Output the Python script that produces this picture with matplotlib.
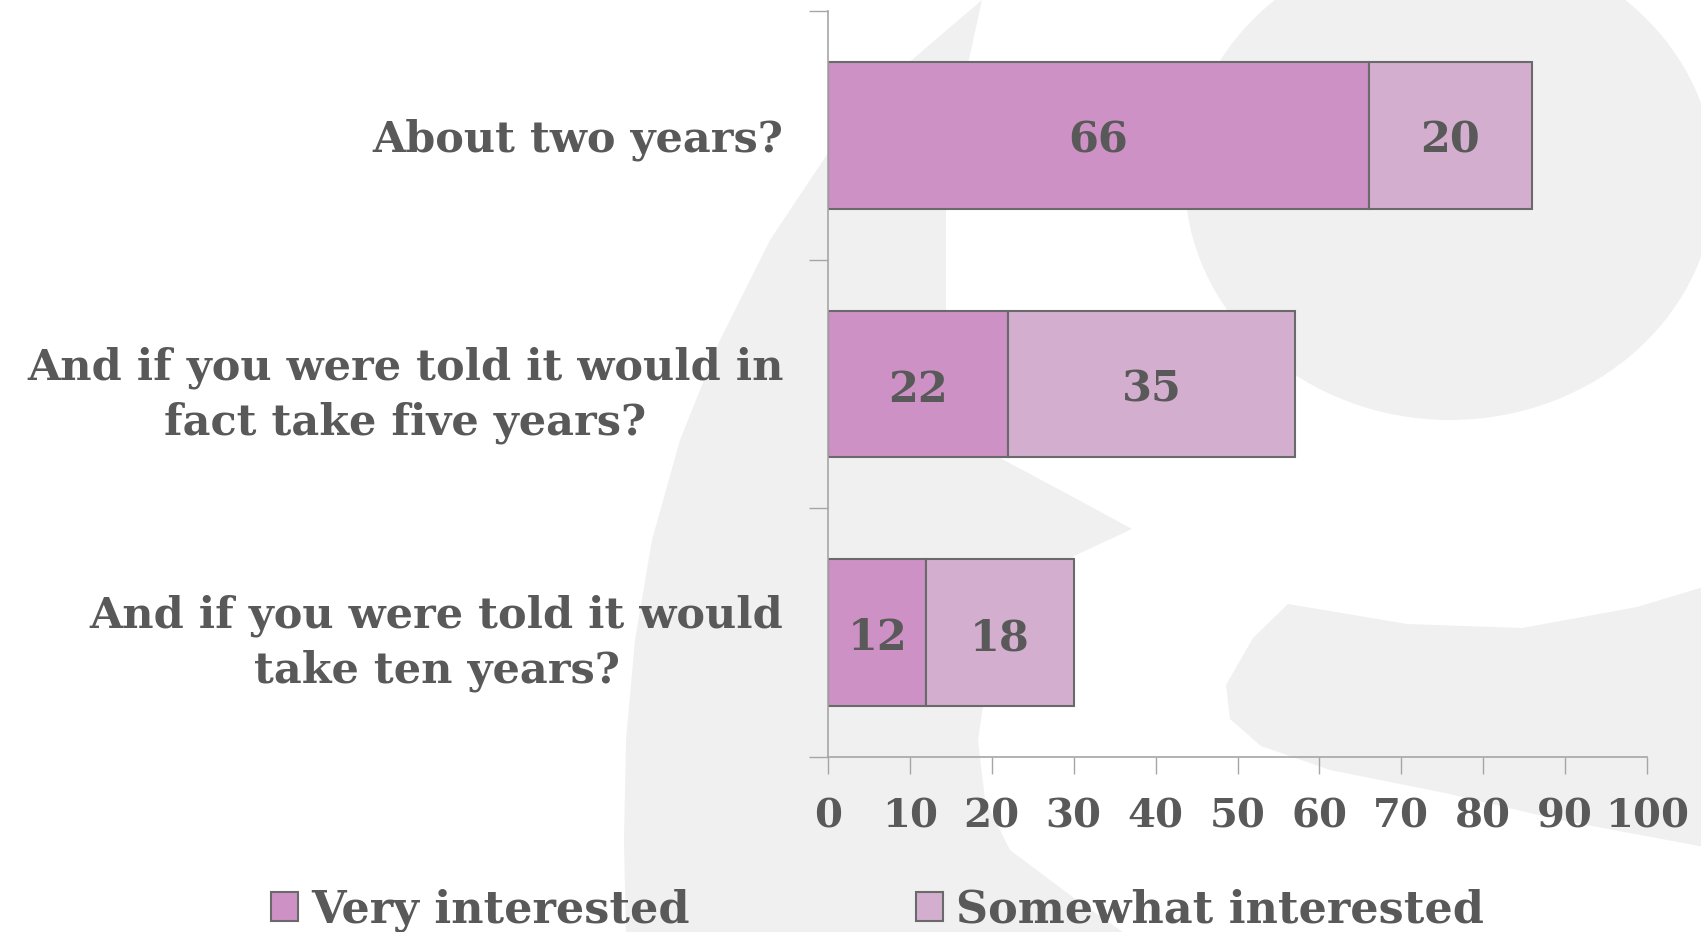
import matplotlib
matplotlib.use("Agg")
import matplotlib.pyplot as plt
from matplotlib.patches import Polygon, Ellipse, Patch
from matplotlib.transforms import Affine2D

# survey answers, percent of respondents
questions = [
    "About two years?",
    "And if you were told it would in\nfact take five years?",
    "And if you were told it would\ntake ten years?",
]
very_interested = [66, 22, 12]
somewhat_interested = [20, 35, 18]
series_names = ["Very interested", "Somewhat interested"]
x_ticks = list(range(0, 101, 10))

VERY = "#cd91c5"
SOMEWHAT = "#d3aecf"
EDGE = "#6a6a6a"
TEXT = "#595959"
AXIS = "#a6a6a6"
MARK = "#f0f0f0"
FONT = "DejaVu Serif"

W, H = 1701, 932
fig = plt.figure(figsize=(W / 100, H / 100), dpi=100)
fig.patch.set_facecolor("white")

# big pale letter mark behind the chart, laid out in pixel units from the top-left
px = Affine2D().scale(1 / W, -1 / H).translate(0, 1) + fig.transFigure
stroke = [(982, 0), (900, 70), (830, 150), (770, 240), (720, 340), (680, 440),
          (652, 540), (635, 640), (626, 740), (624, 840), (626, 940),
          (1134, 940), (1070, 895), (1010, 850), (985, 800), (978, 740),
          (983, 707), (1020, 640), (1074, 556), (1132, 529), (1060, 490),
          (1000, 458), (956, 416), (946, 320), (946, 208), (958, 110)]
tail = [(1288, 604), (1407, 624), (1522, 628), (1637, 607), (1710, 585),
        (1710, 848), (1560, 820), (1445, 793), (1330, 770), (1261, 746),
        (1230, 719), (1226, 685), (1253, 638)]
fig.patches.append(Polygon(stroke, closed=True, transform=px, color=MARK, lw=0, zorder=-5))
fig.patches.append(Polygon(tail, closed=True, transform=px, color=MARK, lw=0, zorder=-5))
fig.patches.append(Ellipse((1450, 180), 530, 480, transform=px, color=MARK, lw=0, zorder=-5))

ax = fig.add_axes([828 / W, 1 - 757 / H, 819 / W, 746 / H])
ax.set_facecolor("none")

pos = list(range(len(questions)))
b1 = ax.barh(pos, very_interested, height=0.59, color=VERY,
             edgecolor=EDGE, linewidth=1.5, label=series_names[0])
b2 = ax.barh(pos, somewhat_interested, left=very_interested, height=0.59,
             color=SOMEWHAT, edgecolor=EDGE, linewidth=1.5, label=series_names[1])
for bars in (b1, b2):
    labels = ax.bar_label(bars, label_type="center", fontsize=31, fontweight="bold",
                          family=FONT, color=TEXT)
    for t in labels:
        t.xyann = (0, -4)

ax.set_xlim(0, 100)
ax.set_ylim(len(questions) - 0.5, -0.5)

ax.set_xticks(x_ticks)
ax.set_xticklabels([str(v) for v in x_ticks], fontsize=29, fontweight="bold",
                   family=FONT, color=TEXT)
ax.tick_params(axis="x", direction="out", length=12, width=1, color=AXIS, pad=17)

ax.set_yticks(pos)
ax.set_yticklabels(questions, fontsize=31, fontweight="bold", family=FONT,
                   color=TEXT, linespacing=1.38)
for t in ax.get_yticklabels():
    t.set_multialignment("center")
ax.set_yticks([p - 0.5 for p in pos] + [pos[-1] + 0.5], minor=True)
ax.tick_params(axis="y", which="major", length=0, pad=32)
ax.tick_params(axis="y", which="minor", direction="out", length=14, width=1, color=AXIS)

for side in ("top", "right"):
    ax.spines[side].set_visible(False)
for side in ("left", "bottom"):
    ax.spines[side].set_color(AXIS)
    ax.spines[side].set_linewidth(1.2)

handles = [Patch(facecolor=VERY, edgecolor=EDGE, linewidth=1.5),
           Patch(facecolor=SOMEWHAT, edgecolor=EDGE, linewidth=1.5)]
ax.legend(handles, series_names, loc="center left",
          bbox_to_anchor=(271 / W, 1 - 910 / H), bbox_transform=fig.transFigure,
          ncol=2, frameon=False, borderpad=0, borderaxespad=0,
          handlelength=0.6, handleheight=0.6, handletextpad=0.3,
          columnspacing=5.1,
          prop={"family": FONT, "weight": "bold", "size": 32},
          labelcolor=TEXT)

fig.savefig("out.png", dpi=100)
